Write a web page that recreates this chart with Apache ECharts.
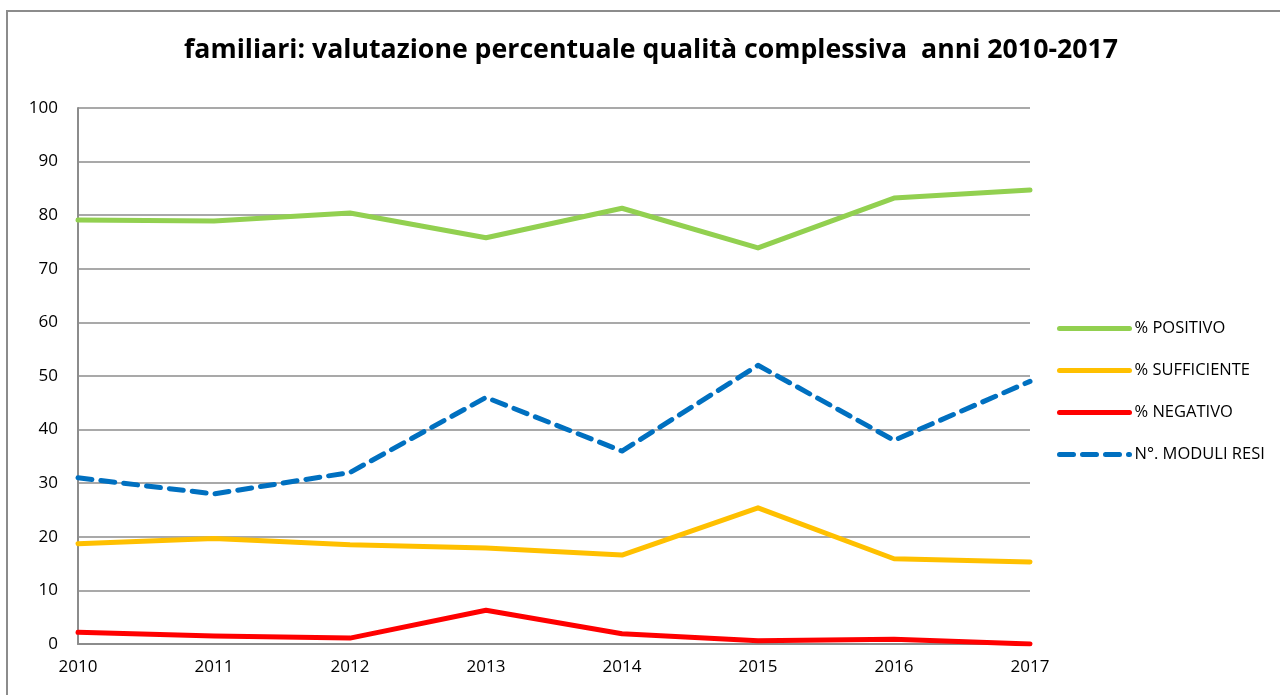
<!DOCTYPE html>
<html><head><meta charset="utf-8">
<script src="https://cdn.jsdelivr.net/npm/echarts@6/dist/echarts.min.js"></script>
<style>html,body{margin:0;padding:0;background:#fff}#c{width:1280px;height:695px}</style>
</head><body><div id="c"></div>
<script>
const years = ['2010','2011','2012','2013','2014','2015','2016','2017'];
const positivo = [79.1, 78.9, 80.4, 75.8, 81.3, 73.9, 83.2, 84.7];
const sufficiente = [18.7, 19.7, 18.5, 17.9, 16.6, 25.4, 15.9, 15.3];
const negativo = [2.2, 1.5, 1.1, 6.3, 1.9, 0.6, 0.9, 0.0];
const moduli = [31, 28, 32, 46, 36, 52, 38, 49];
const seriesNames = ['% POSITIVO', '% SUFFICIENTE', '% NEGATIVO', 'N°. MODULI RESI'];

const chart = echarts.init(document.getElementById('c'), null, {renderer: 'canvas'});
const mk = (name, data, color, type) => ({
  name, type: 'line', data, symbol: 'none', smooth: false,
  lineStyle: {color, width: 5, type: type || 'solid', cap: 'round', join: 'round'},
  itemStyle: {color}, emphasis: {disabled: true}
});
chart.setOption({
  animation: false,
  backgroundColor: '#fff',
  graphic: [{type: 'rect', shape: {x: 7, y: 11, width: 1300, height: 700},
    style: {fill: 'none', stroke: '#8c8c8c', lineWidth: 2}, z: 0}],
  title: {text: 'familiari: valutazione percentuale qualità complessiva  anni 2010-2017',
    left: 646, top: 32, textAlign: 'center',
    textStyle: {fontFamily: 'Open Sans', fontWeight: 'bold', fontSize: 26.7, color: '#000'}},
  grid: {left: 78, right: 250, top: 108, bottom: 51, containLabel: false},
  legend: {orient: 'vertical', left: 1052, top: 315, itemWidth: 70, itemHeight: 14, itemGap: 25,
    data: seriesNames,
    itemStyle: {opacity: 0},
    lineStyle: {width: 5, cap: 'round'},
    textStyle: {fontFamily: 'Open Sans', fontSize: 16.5, color: '#000'}},
  xAxis: {type: 'category', data: years, boundaryGap: false,
    axisLine: {lineStyle: {color: '#8c8c8c', width: 2}}, axisTick: {show: false},
    axisLabel: {fontFamily: 'Open Sans', fontSize: 17, color: '#000', margin: 15}},
  yAxis: {type: 'value', min: 0, max: 100, interval: 10,
    axisLine: {show: true, lineStyle: {color: '#8c8c8c', width: 2}}, axisTick: {show: false},
    splitLine: {lineStyle: {color: '#8c8c8c', width: 1.5}},
    axisLabel: {fontFamily: 'Open Sans', fontSize: 17, color: '#000', margin: 20}},
  series: [
    mk(seriesNames[0], positivo, '#92D050'),
    mk(seriesNames[1], sufficiente, '#FFC000'),
    mk(seriesNames[2], negativo, '#FF0000'),
    mk(seriesNames[3], moduli, '#0070C0', [14, 9])
  ]
});
</script></body></html>
